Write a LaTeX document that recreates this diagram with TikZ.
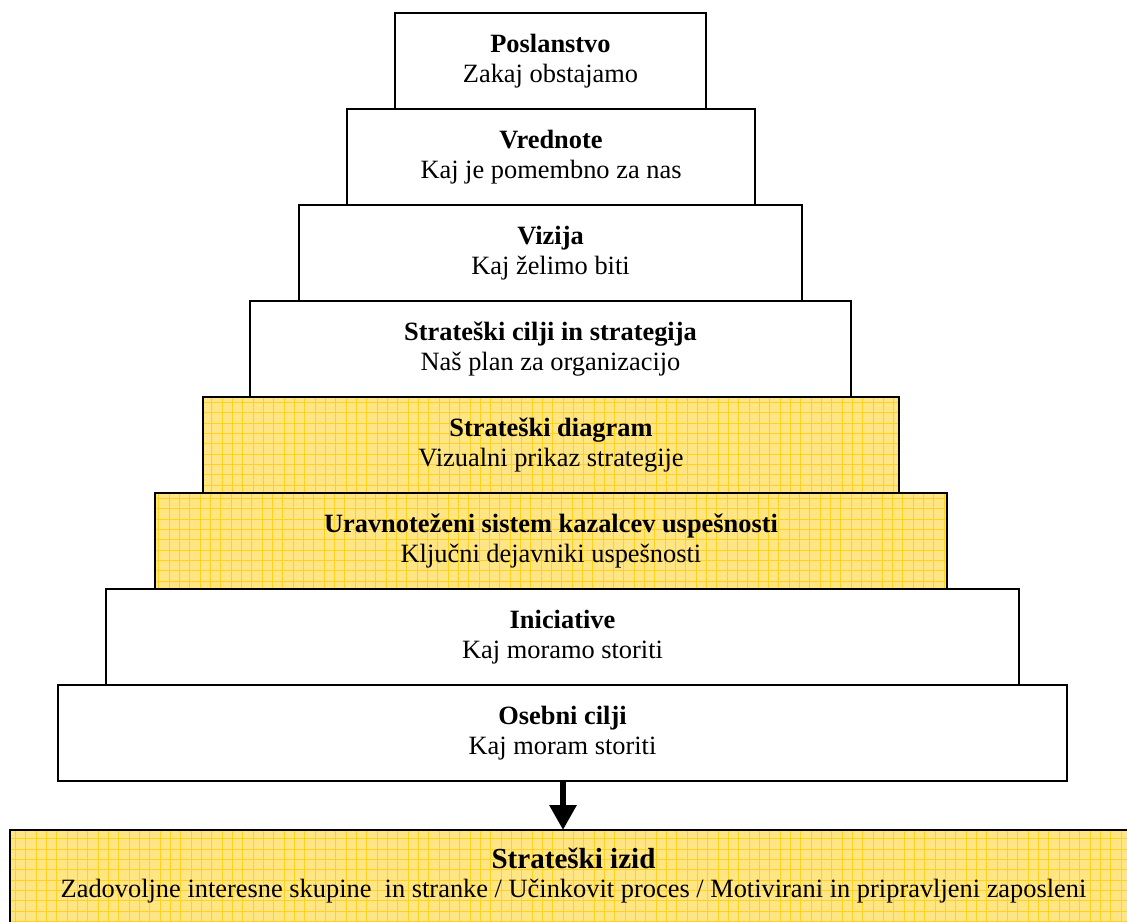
\documentclass[tikz,border=0pt]{standalone}
\usepackage{fontspec}
\setmainfont{Liberation Serif}
\usetikzlibrary{arrows.meta}
\definecolor{tierfill}{HTML}{FFE583}
\definecolor{tiergrid}{HTML}{FFD21F}
\tikzset{
  tier/.style={draw=black, line width=2.1pt, fill=white, rectangle,
    minimum height=72pt, inner sep=0pt, outer sep=0pt, align=center,
    font=\fontsize{19.8}{22.5}\selectfont},
  highlight/.style={fill=tierfill,
    path picture={\draw[tiergrid, line width=0.55pt]
      (path picture bounding box.south west) grid[step=7.75pt]
      (path picture bounding box.north east);}},
  flowarrow/.style={line width=4.5pt, -{Triangle[length=18.75pt,width=19.5pt]}}
}
\newcommand{\tiertext}[2]{\raisebox{1.5pt}{\begin{tabular}{@{}c@{}}\textbf{#1}\\#2\end{tabular}}}
\begin{document}
\begin{tikzpicture}[x=0.75pt,y=-0.75pt]
  \useasboundingbox (0,0) rectangle (1127,921);
  \begin{scope}
    \clip (0,0) rectangle (1127,921);
    % bottom outcome box (extends past the right and lower edges)
    \node[tier, highlight, minimum width=845.25pt, minimum height=75pt] (b9) at (573.5,880) {};
    \node[font=\fontsize{21.8}{24}\selectfont\bfseries] (t9) at (573.5,858) {Strateški izid};
    \node[font=\fontsize{19.8}{22.5}\selectfont] (s9) at (573.5,891) {Zadovoljne interesne skupine\ \ in stranke / Učinkovit proces / Motivirani in pripravljeni zaposleni};
  \end{scope}
  % pyramid tiers, bottom to top
  \node[tier, minimum width=756.75pt] (b8) at (562.5,733) {\tiertext{Osebni cilji}{Kaj moram storiti}};
  \node[tier, minimum width=684.75pt] (b7) at (562.5,637) {\tiertext{Iniciative}{Kaj moramo storiti}};
  \node[tier, highlight, minimum width=594pt] (b6) at (551,541) {\tiertext{Uravnoteženi sistem kazalcev uspešnosti}{Ključni dejavniki uspešnosti}};
  \node[tier, highlight, minimum width=522pt] (b5) at (551,445) {\tiertext{Strateški diagram}{Vizualni prikaz strategije}};
  \node[tier, minimum width=450.75pt] (b4) at (550.5,349) {\tiertext{Strateški cilji in strategija}{Naš plan za organizacijo}};
  \node[tier, minimum width=377.25pt] (b3) at (550.5,253) {\tiertext{Vizija}{Kaj želimo biti}};
  \node[tier, minimum width=306pt] (b2) at (551,157) {\tiertext{Vrednote}{Kaj je pomembno za nas}};
  \node[tier, minimum width=233.25pt] (b1) at (550.5,61) {\tiertext{Poslanstvo}{Zakaj obstajamo}};
  % link from personal goals to the strategic outcome
  \draw[flowarrow] ([xshift=0.375pt]b8.south) -- ([xshift=0.375pt]b8.south |- b9.north);
\end{tikzpicture}
\end{document}
